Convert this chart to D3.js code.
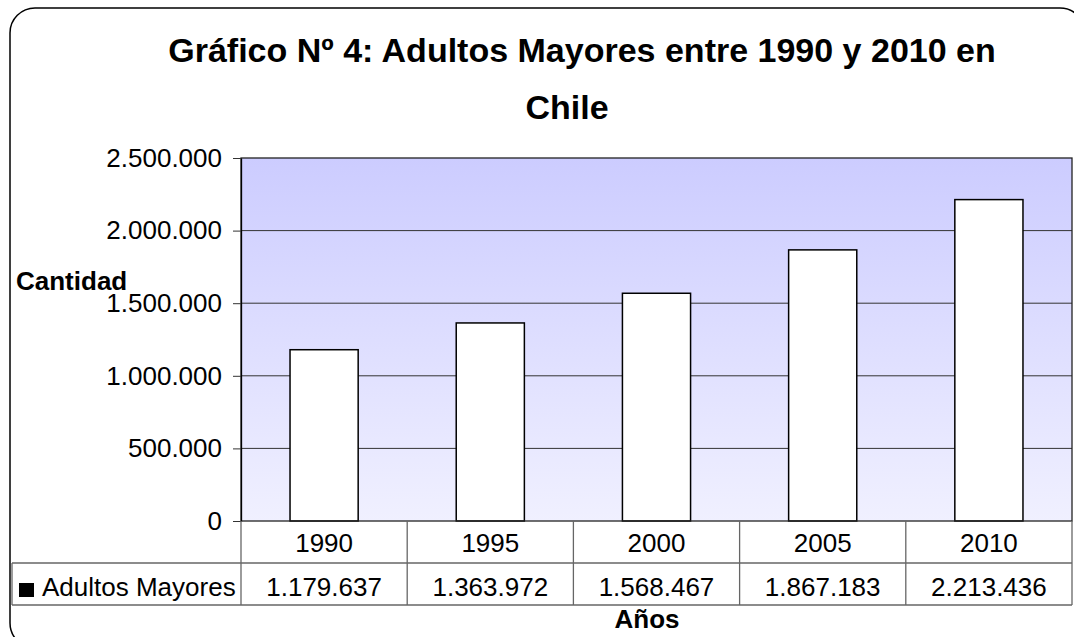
<!DOCTYPE html>
<html>
<head>
<meta charset="utf-8">
<script src="https://cdn.jsdelivr.net/npm/d3@7"></script>
<style>
  html, body { margin: 0; padding: 0; background: #ffffff; }
  svg { display: block; font-family: "Liberation Sans", Arial, sans-serif; }
</style>
</head>
<body>
<svg id="chart" width="1074" height="637"></svg>
<script>
// Población de adultos mayores en Chile por año
const years = ["1990", "1995", "2000", "2005", "2010"];
const values = [1179637, 1363972, 1568467, 1867183, 2213436];
const yTicks = [0, 500000, 1000000, 1500000, 2000000, 2500000];
const seriesName = "Adultos Mayores";
const titleLines = ["Gráfico Nº 4: Adultos Mayores entre 1990 y 2010 en", "Chile"];
const yTitle = "Cantidad";
const xTitle = "Años";

const svg = d3.select("#chart");
const es = d3.formatLocale({ decimal: ",", thousands: ".", grouping: [3], currency: ["$", ""] });
const fmt = es.format(",d");

const plot = { left: 241, right: 1072, top: 158, bottom: 521 };
const rowH = 42;
const fs = 26;

const x = d3.scaleBand().domain(years).range([plot.left, plot.right]).paddingInner(0).paddingOuter(0);
const y = d3.scaleLinear().domain([0, 2500000]).range([plot.bottom, plot.top]);

// Outer rounded frame
svg.append("rect")
  .attr("x", 10).attr("y", 8)
  .attr("width", 1075).attr("height", 640)
  .attr("rx", 25).attr("ry", 25)
  .attr("fill", "#ffffff").attr("stroke", "#000000").attr("stroke-width", 1.5);

// Plot area gradient background
const defs = svg.append("defs");
const grad = defs.append("linearGradient").attr("id", "plotBg")
  .attr("x1", 0).attr("y1", 0).attr("x2", 0).attr("y2", 1);
grad.append("stop").attr("offset", "0%").attr("stop-color", "#ccccff");
grad.append("stop").attr("offset", "100%").attr("stop-color", "#f0f0ff");

svg.append("rect")
  .attr("x", plot.left).attr("y", plot.top)
  .attr("width", plot.right - plot.left).attr("height", plot.bottom - plot.top)
  .attr("fill", "url(#plotBg)");

// Horizontal gridlines
svg.append("g").selectAll("line").data(yTicks.slice(1, -1)).join("line")
  .attr("x1", plot.left).attr("x2", plot.right)
  .attr("y1", d => y(d)).attr("y2", d => y(d))
  .attr("stroke", "#333333").attr("stroke-width", 1);

// Bars
svg.append("g").selectAll("rect").data(values).join("rect")
  .attr("x", (d, i) => x(years[i]) + x.bandwidth() / 2 - x.bandwidth() * 0.205)
  .attr("width", x.bandwidth() * 0.41)
  .attr("y", d => y(d))
  .attr("height", d => y(0) - y(d))
  .attr("fill", "#ffffff").attr("stroke", "#000000").attr("stroke-width", 1.5);

// Plot border
svg.append("rect")
  .attr("x", plot.left).attr("y", plot.top)
  .attr("width", plot.right - plot.left).attr("height", plot.bottom - plot.top)
  .attr("fill", "none").attr("stroke", "#222222").attr("stroke-width", 1.3);

// Y axis
const yAxis = d3.axisLeft(y).tickValues(yTicks).tickFormat(fmt).tickSizeInner(8).tickSizeOuter(0).tickPadding(11);
const gy = svg.append("g").attr("transform", `translate(${plot.left},0)`).call(yAxis);
gy.select(".domain").attr("stroke", "#000000").attr("stroke-width", 1.3);
gy.selectAll(".tick line").attr("stroke", "#333333");
gy.selectAll(".tick text")
  .attr("font-size", fs).attr("fill", "#000000")
  .attr("font-family", "'Liberation Sans', Arial, sans-serif");

// Data table under the axis
const tbl = svg.append("g").attr("stroke", "#666666").attr("stroke-width", 1.3);
const tLeft = 12, row1 = plot.bottom, row2 = plot.bottom + rowH, row3 = plot.bottom + 2 * rowH;
tbl.append("line").attr("x1", tLeft).attr("x2", plot.right).attr("y1", row2).attr("y2", row2);
tbl.append("line").attr("x1", tLeft).attr("x2", plot.right).attr("y1", row3).attr("y2", row3);
tbl.append("line").attr("x1", tLeft).attr("x2", tLeft).attr("y1", row2).attr("y2", row3);
tbl.selectAll("line.col").data(years.concat(["end"])).join("line").attr("class", "col")
  .attr("x1", (d, i) => i < years.length ? x(d) : plot.right)
  .attr("x2", (d, i) => i < years.length ? x(d) : plot.right)
  .attr("y1", row1).attr("y2", row3);

// Year labels
svg.append("g").selectAll("text").data(years).join("text")
  .attr("x", d => x(d) + x.bandwidth() / 2)
  .attr("y", row1 + 31)
  .attr("text-anchor", "middle").attr("font-size", fs)
  .text(d => d);

// Value labels
svg.append("g").selectAll("text").data(values).join("text")
  .attr("x", (d, i) => x(years[i]) + x.bandwidth() / 2)
  .attr("y", row2 + 33)
  .attr("text-anchor", "middle").attr("font-size", fs)
  .text(d => fmt(d));

// Legend key inside table
svg.append("rect").attr("x", 19).attr("y", 583).attr("width", 15).attr("height", 14).attr("fill", "#000000");
svg.append("text").attr("x", 42).attr("y", row2 + 33).attr("font-size", fs).text(seriesName);

// Titles
const titleX = [582, 567];
svg.append("g").selectAll("text").data(titleLines).join("text")
  .attr("x", (d, i) => titleX[i])
  .attr("y", (d, i) => 62 + i * 57)
  .attr("text-anchor", "middle")
  .attr("font-size", 34).attr("font-weight", "bold")
  .text(d => d);

svg.append("text").attr("x", 16).attr("y", 290)
  .attr("font-size", fs).attr("font-weight", "bold").text(yTitle);

svg.append("text").attr("x", 647).attr("y", 628)
  .attr("text-anchor", "middle")
  .attr("font-size", fs).attr("font-weight", "bold").text(xTitle);
</script>
</body>
</html>
